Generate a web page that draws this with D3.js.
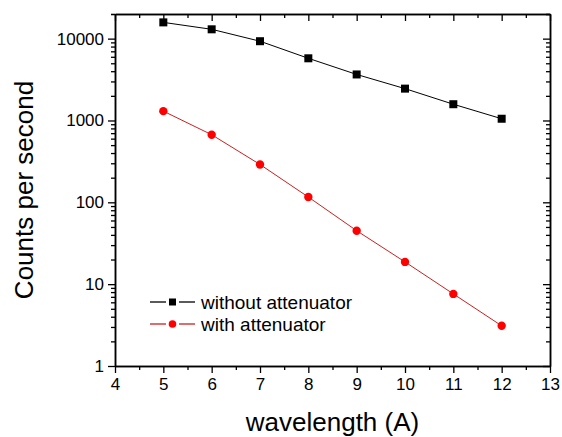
<!DOCTYPE html>
<html>
<head>
<meta charset="utf-8">
<script src="https://cdn.jsdelivr.net/npm/d3@7"></script>
<style>
  html, body { margin: 0; padding: 0; background: #fff; }
  svg { display: block; font-family: "Liberation Sans", Arial, sans-serif; }
</style>
</head>
<body>
<svg id="chart" width="562" height="437"></svg>
<script>
const wavelength = [5, 6, 7, 8, 9, 10, 11, 12];
const withoutAtt = [15800, 13000, 9300, 5750, 3650, 2450, 1580, 1050];
const withAtt = [1300, 670, 290, 116, 45, 18.7, 7.6, 3.1];
const xTicks = [4, 5, 6, 7, 8, 9, 10, 11, 12, 13];
const yTicks = [1, 10, 100, 1000, 10000];
const seriesNames = ["without attenuator", "with attenuator"];

const M = { left: 115, right: 550, top: 14, bottom: 366 };

const svg = d3.select("#chart");

const x = d3.scaleLinear().domain([4, 13]).range([M.left, M.right]);
const y = d3.scaleLog().domain([1, 20000]).range([M.bottom, M.top]);

// minor ticks
const xMinor = d3.range(4.5, 13, 1);
const yMinor = [];
for (let d = 1; d <= 10000; d *= 10) {
  for (let k = 2; k <= 9; k++) if (d * k <= 20000) yMinor.push(d * k);
}
yMinor.push(20000);

function styleAxis(g) {
  g.select(".domain").attr("stroke", "#000").attr("stroke-width", 1.5);
  g.selectAll(".tick line").attr("stroke", "#000").attr("stroke-width", 1.3);
}

// bottom
svg.append("g").attr("transform", `translate(0,${M.bottom})`)
  .call(d3.axisBottom(x).tickValues(xMinor).tickSize(4).tickFormat("").tickSizeOuter(0))
  .call(styleAxis);
svg.append("g").attr("transform", `translate(0,${M.bottom})`)
  .call(d3.axisBottom(x).tickValues(xTicks).tickSize(7).tickPadding(5).tickFormat(d3.format("d")).tickSizeOuter(0))
  .call(styleAxis)
  .call(g => g.selectAll(".tick text").attr("font-size", 17).attr("fill", "#000").attr("font-family", "Liberation Sans, Arial"));

// top (inward)
svg.append("g").attr("transform", `translate(0,${M.top})`)
  .call(d3.axisBottom(x).tickValues(xMinor).tickSize(4).tickFormat("").tickSizeOuter(0))
  .call(styleAxis);
svg.append("g").attr("transform", `translate(0,${M.top})`)
  .call(d3.axisBottom(x).tickValues(xTicks).tickSize(7).tickFormat("").tickSizeOuter(0))
  .call(styleAxis);

// left
svg.append("g").attr("transform", `translate(${M.left},0)`)
  .call(d3.axisLeft(y).tickValues(yMinor).tickSize(4).tickFormat("").tickSizeOuter(0))
  .call(styleAxis);
svg.append("g").attr("transform", `translate(${M.left},0)`)
  .call(d3.axisLeft(y).tickValues(yTicks).tickSize(7).tickPadding(4).tickFormat(d3.format("d")).tickSizeOuter(0))
  .call(styleAxis)
  .call(g => g.selectAll(".tick text").attr("font-size", 17).attr("fill", "#000").attr("font-family", "Liberation Sans, Arial"));

// right (inward)
svg.append("g").attr("transform", `translate(${M.right},0)`)
  .call(d3.axisLeft(y).tickValues(yMinor).tickSize(4).tickFormat("").tickSizeOuter(0))
  .call(styleAxis);
svg.append("g").attr("transform", `translate(${M.right},0)`)
  .call(d3.axisLeft(y).tickValues(yTicks).tickSize(7).tickFormat("").tickSizeOuter(0))
  .call(styleAxis);

// axis titles
svg.append("text")
  .attr("x", (M.left + M.right) / 2).attr("y", 431)
  .attr("text-anchor", "middle").attr("font-size", 26)
  .text("wavelength (A)");
svg.append("text")
  .attr("transform", `translate(33,${(M.top + M.bottom) / 2}) rotate(-90)`)
  .attr("text-anchor", "middle").attr("font-size", 26)
  .text("Counts per second");

// lines
const lineGen = vals => d3.line().x((d, i) => x(wavelength[i])).y(d => y(d))(vals);
svg.append("path").attr("d", lineGen(withoutAtt))
  .attr("fill", "none").attr("stroke", "#000").attr("stroke-width", 1);
svg.append("path").attr("d", lineGen(withAtt))
  .attr("fill", "none").attr("stroke", "#cc2020").attr("stroke-width", 1);

// markers
svg.selectAll("rect.blk").data(withoutAtt).join("rect")
  .attr("class", "blk")
  .attr("x", (d, i) => x(wavelength[i]) - 4).attr("y", d => y(d) - 4)
  .attr("width", 8).attr("height", 8).attr("fill", "#000");
svg.selectAll("circle.red").data(withAtt).join("circle")
  .attr("class", "red")
  .attr("cx", (d, i) => x(wavelength[i])).attr("cy", d => y(d))
  .attr("r", 4.2).attr("fill", "#ff0000");

// legend
const leg = svg.append("g");
const legY = [302, 324];
const legColors = ["#000", "#cc2020"];
seriesNames.forEach((name, i) => {
  const g = leg.append("g").attr("transform", `translate(0,${legY[i]})`);
  g.append("line").attr("x1", 150).attr("x2", 166).attr("stroke", legColors[i]).attr("stroke-width", 1.3);
  g.append("line").attr("x1", 179).attr("x2", 195).attr("stroke", legColors[i]).attr("stroke-width", 1.3);
  if (i === 0) {
    g.append("rect").attr("x", 169).attr("y", -3.5).attr("width", 7).attr("height", 7).attr("fill", "#000");
  } else {
    g.append("circle").attr("cx", 172.5).attr("cy", 0).attr("r", 3.8).attr("fill", "#ff0000");
  }
  g.append("text").attr("x", 201).attr("y", 6.5).attr("font-size", 19).text(name);
});
</script>
</body>
</html>
